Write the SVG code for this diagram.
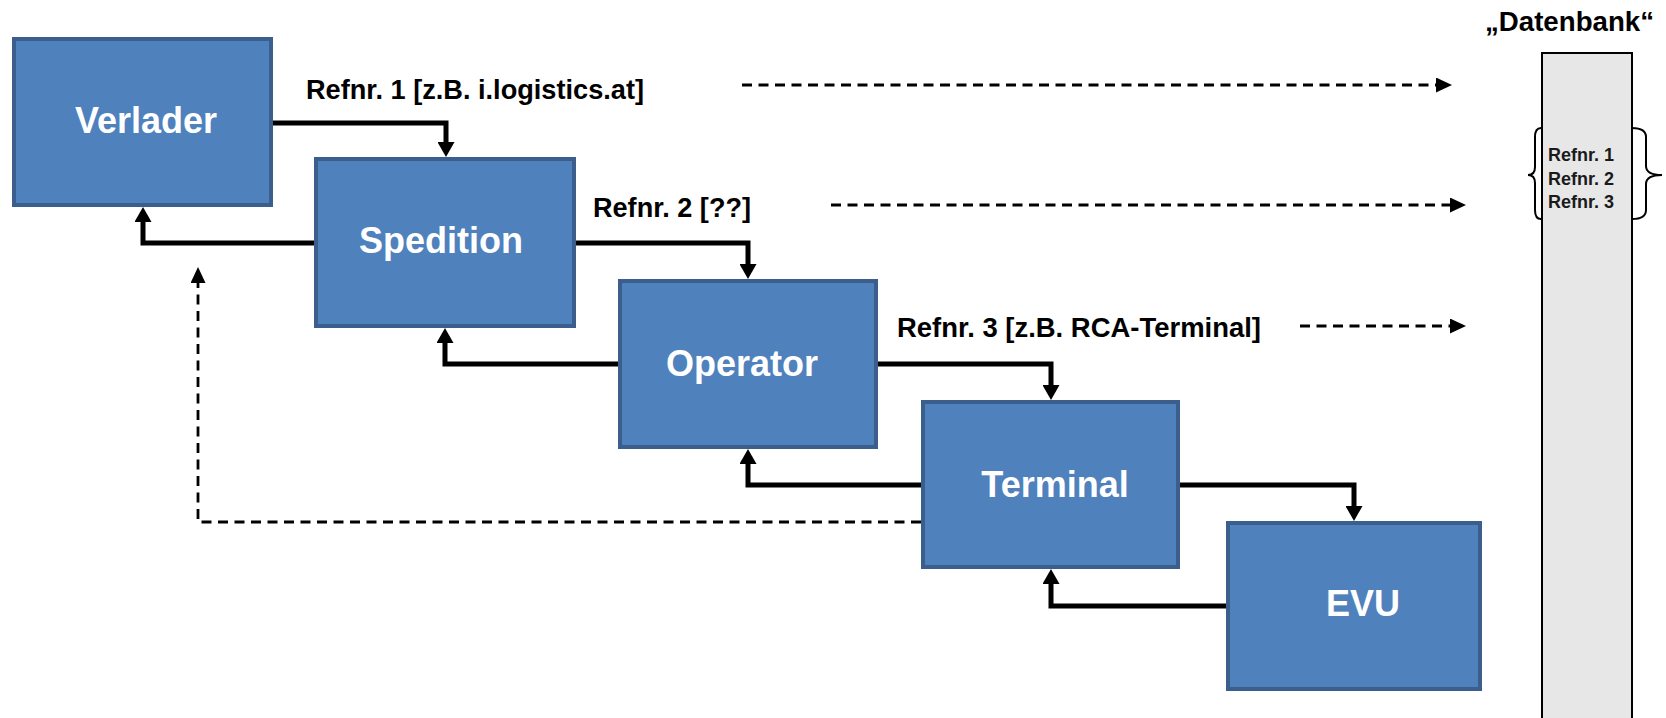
<svg xmlns="http://www.w3.org/2000/svg" width="1666" height="718" viewBox="0 0 1666 718">
<style>
.box{fill:#4F81BD;stroke:#3B5E8C;stroke-width:4}
.lbl{font-family:"Liberation Sans",Arial,sans-serif;font-weight:bold;font-size:36px;fill:#FFFFFF;text-anchor:middle}
.ref{font-family:"Liberation Sans",Arial,sans-serif;font-weight:bold;font-size:27px;fill:#000000}
.db{font-family:"Liberation Sans",Arial,sans-serif;font-weight:bold;font-size:18px;fill:#1a1a1a}
.solid{fill:none;stroke:#000;stroke-width:5;stroke-linejoin:miter}
.dash{fill:none;stroke:#000;stroke-width:2.8;stroke-dasharray:10 6.5}
.brace{fill:none;stroke:#000;stroke-width:2}
</style>
<defs>
<marker id="ah" markerUnits="userSpaceOnUse" markerWidth="15" markerHeight="17" viewBox="0 0 15 17" refX="5" refY="8.5" orient="auto">
<path d="M0,0 L15,8.5 L0,17 Z" fill="#000"/>
</marker>
<marker id="dh" markerUnits="userSpaceOnUse" markerWidth="16" markerHeight="15" viewBox="0 0 16 15" refX="8" refY="7.5" orient="auto">
<path d="M0,0 L16,7.5 L0,15 Z" fill="#000"/>
</marker>
</defs>

<g id="datenbank">
<text x="1485" y="31" class="ref" font-size="25" textLength="169" lengthAdjust="spacingAndGlyphs">„Datenbank“</text>
<rect x="1542" y="53" width="90" height="700" fill="#E7E7E7" stroke="#000" stroke-width="2"/>
<text x="1548" y="161" class="db">Refnr. 1</text>
<text x="1548" y="185" class="db">Refnr. 2</text>
<text x="1548" y="208" class="db">Refnr. 3</text>
<path class="brace" d="M1541,128 Q1535,128 1535,137 V167 Q1535,175 1528,175 Q1535,175 1535,183 V210 Q1535,219 1541,219"/>
<path class="brace" d="M1632,128 Q1646,128 1646,137 V166 Q1646,175 1662,175 Q1646,175 1646,184 V210 Q1646,219 1632,219"/>
</g>

<g id="connectors">
<path class="solid" d="M273,123 H446 V147" marker-end="url(#ah)"/>
<path class="solid" d="M314,243 H143 V217" marker-end="url(#ah)"/>
<path class="solid" d="M576,243 H748 V269" marker-end="url(#ah)"/>
<path class="solid" d="M618,364 H445 V338" marker-end="url(#ah)"/>
<path class="solid" d="M878,364 H1051 V390" marker-end="url(#ah)"/>
<path class="solid" d="M921,485 H748 V459" marker-end="url(#ah)"/>
<path class="solid" d="M1180,485 H1354 V511" marker-end="url(#ah)"/>
<path class="solid" d="M1226,606 H1051 V579" marker-end="url(#ah)"/>
<path class="dash" d="M921,522 H198 V275" marker-end="url(#dh)"/>
<path class="dash" d="M742,85 H1444" marker-end="url(#dh)"/>
<path class="dash" d="M831,205 H1458" marker-end="url(#dh)"/>
<path class="dash" d="M1300,326 H1458" marker-end="url(#dh)"/>
</g>

<g id="labels">
<text x="306" y="99" class="ref" textLength="338" lengthAdjust="spacingAndGlyphs">Refnr. 1 [z.B. i.logistics.at]</text>
<text x="593" y="217" class="ref" textLength="158" lengthAdjust="spacingAndGlyphs">Refnr. 2 [??]</text>
<text x="897" y="337" class="ref" textLength="364" lengthAdjust="spacingAndGlyphs">Refnr. 3 [z.B. RCA-Terminal]</text>
</g>

<g id="verlader">
<rect class="box" x="14" y="39" width="257" height="166"/>
<text class="lbl" x="146" y="133">Verlader</text>
</g>
<g id="spedition">
<rect class="box" x="316" y="159" width="258" height="167"/>
<text class="lbl" x="441" y="253">Spedition</text>
</g>
<g id="operator">
<rect class="box" x="620" y="281" width="256" height="166"/>
<text class="lbl" x="742" y="376">Operator</text>
</g>
<g id="terminal">
<rect class="box" x="923" y="402" width="255" height="165"/>
<text class="lbl" x="1055" y="497">Terminal</text>
</g>
<g id="evu">
<rect class="box" x="1228" y="523" width="252" height="166"/>
<text class="lbl" x="1363" y="616">EVU</text>
</g>
</svg>
